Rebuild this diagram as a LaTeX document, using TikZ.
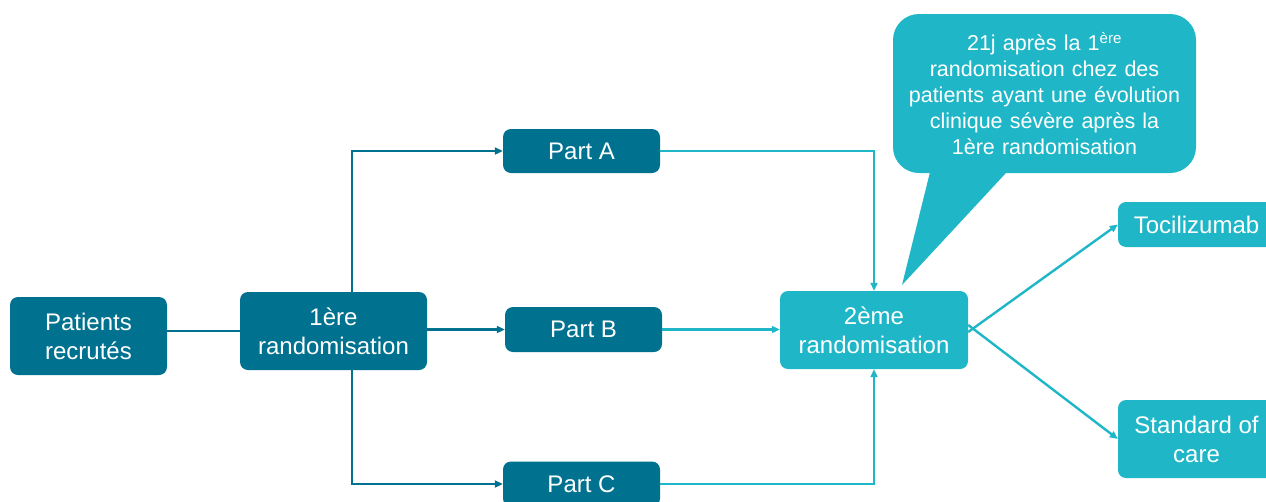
\documentclass[tikz,border=0pt]{standalone}
\usepackage{fontspec}
\setmainfont{Liberation Sans}
\usetikzlibrary{arrows.meta}
\definecolor{darkteal}{HTML}{00728F}
\definecolor{lightteal}{HTML}{1FB7C7}
\begin{document}
\begin{tikzpicture}[x=1pt,y=-1pt,
  boxd/.style={fill=darkteal, rounded corners=8pt, text=white, align=center, inner sep=0pt, font=\fontsize{24}{29}\selectfont},
  boxl/.style={boxd, fill=lightteal},
  lined/.style={draw=darkteal, line width=2.4pt},
  linel/.style={draw=lightteal, line width=2.4pt},
  tip/.style={-{Triangle[length=8pt,width=7pt]}}]
\useasboundingbox (0,0) rectangle (1266,501);
\clip (0,0) rectangle (1266,501);
% callout
\node[fill=lightteal, rounded corners=26pt, minimum width=303pt, minimum height=159pt, inner sep=0pt] (callout) at (1044.5,93.5) {};
\fill[lightteal] (933,160) -- (902,285) -- (1018,160) -- cycle;
\node[text=white, align=center, text width=300pt, font=\fontsize{21.5}{26}\selectfont] (ctext) at (callout.center) {21j après la 1\textsuperscript{ère}\\randomisation chez des\\patients ayant une évolution\\clinique sévère après la\\1ère randomisation};
% nodes
\node[boxd, minimum width=157pt, minimum height=78pt] (p) at (88.5,336) {Patients\\recrutés};
\node[boxd, minimum width=187pt, minimum height=78pt] (r1) at (333.5,331) {1ère\\randomisation};
\node[boxd, minimum width=157pt, minimum height=44pt] (pa) at (581.5,151) {Part A};
\node[boxd, minimum width=157pt, minimum height=45pt] (pb) at (583.5,329.5) {Part B};
\node[boxd, minimum width=157pt, minimum height=45pt] (pc) at (581.5,484) {Part C};
\node[boxl, minimum width=188pt, minimum height=78pt] (r2) at (874,330) {2ème\\randomisation};
\node[boxl, minimum width=157pt, minimum height=45pt] (toci) at (1196.5,224.5) {Tocilizumab};
\node[boxl, minimum width=157pt, minimum height=78pt] (soc) at (1196.5,439) {Standard of\\care};
\coordinate (v1) at (352,0);
% dark connectors
\draw[lined] (p.east |- r1.west) -- (r1.west);
\draw[lined, tip] (v1 |- r1.north) |- (pa.west);
\draw[lined, tip] (r1.east |- pb.west) -- (pb.west);
\draw[lined, tip] (v1 |- r1.south) |- (pc.west);
% light connectors
\draw[linel, tip] (pa.east) -| (r2.north);
\draw[linel, tip] (pb.east) -- (r2.west |- pb.east);
\draw[linel, tip] (pc.east) -| (r2.south);
\draw[linel, tip] ([yshift=-2pt]r2.east) -- (toci.west);
\draw[linel, tip] ([yshift=5pt]r2.east) -- (soc.west);
\end{tikzpicture}
\end{document}
